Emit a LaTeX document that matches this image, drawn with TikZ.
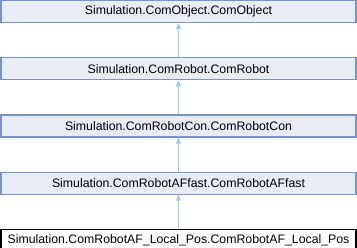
\documentclass[tikz,border=0pt]{standalone}
\usepackage{fontspec}
\setmainfont{Liberation Sans}
\usepackage{xcolor}
\usetikzlibrary{arrows.meta, positioning}

\definecolor{boxfill}{HTML}{E8ECF5}
\definecolor{boxline}{HTML}{7B91C9}
\definecolor{edgeblue}{HTML}{99CCEE}

\begin{document}
\begin{tikzpicture}[x=1bp, y=1bp,
    cls/.style={draw=boxline, fill=boxfill, line width=1.2bp, minimum width=355bp,
        minimum height=22bp, inner sep=0pt, font=\fontsize{12.3bp}{14bp}\selectfont},
    leaf/.style={cls, draw=black, fill=white},
    inherit/.style={draw=edgeblue, line width=1bp, -{Triangle[length=6bp, width=5bp]}},
    node distance=34bp]
    % Page frame
    \useasboundingbox (0,0) rectangle (357,-248);

    % Class boxes, base at the top
    \node[cls] (obj) at (178.5,-11.5) {Simulation.ComObject.ComObject};
    \node[cls, below=of obj] (robot) {Simulation.ComRobot.ComRobot};
    \node[cls, below=of robot] (con) {Simulation.ComRobotCon.ComRobotCon};
    \node[cls, below=of con] (affast) {Simulation.ComRobotAFfast.ComRobotAFfast};
    \node[leaf, below=of affast] (localpos) {Simulation.ComRobotAF\_Local\_Pos.ComRobotAF\_Local\_Pos};

    % Inheritance edges
    \draw[inherit] (robot) -- (obj);
    \draw[inherit] (con) -- (robot);
    \draw[inherit] (affast) -- (con);
    \draw[inherit] (localpos) -- (affast);
\end{tikzpicture}
\end{document}
